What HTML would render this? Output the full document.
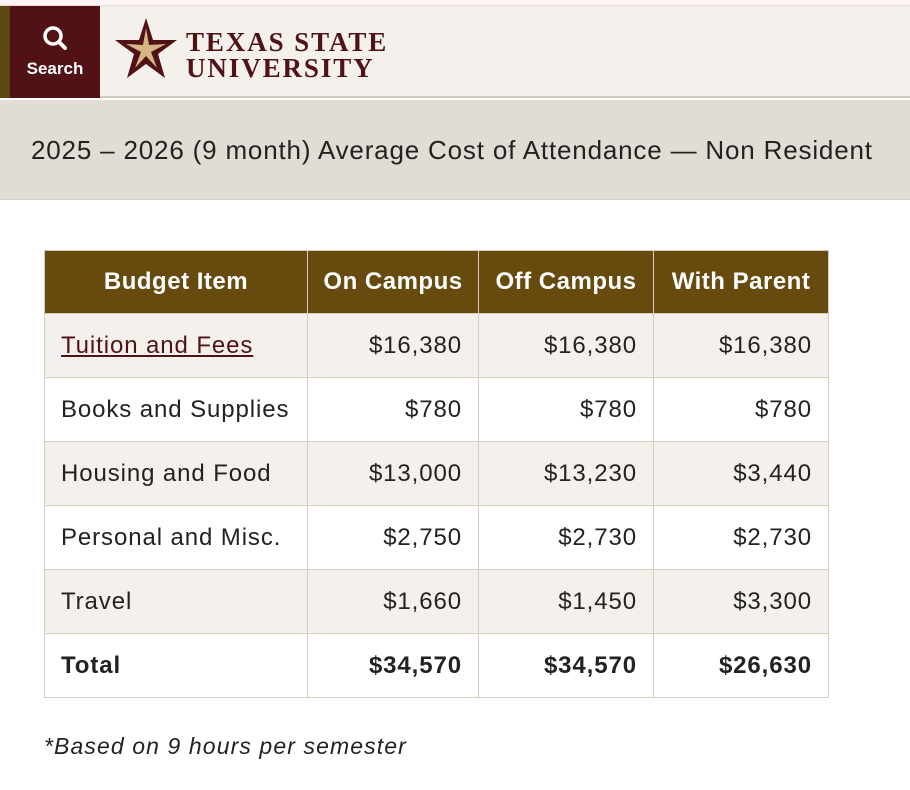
<!DOCTYPE html>
<html><head><meta charset="utf-8"><style>
*{margin:0;padding:0;box-sizing:border-box}
body{width:910px;height:790px;background:#fff;font-family:"Liberation Sans",sans-serif;position:relative;overflow:hidden;color:#222}
.top{position:absolute;left:0;top:0;width:910px;height:6px;background:#fbf6f3;border-bottom:1px solid #f0dcd4}
.hdr{position:absolute;left:0;top:6px;width:910px;height:92px;background:#f4f1ec;border-bottom:2px solid #cfcac2}
.gold{position:absolute;left:0;top:6px;width:10px;height:92px;background:#5e4712}
.search{position:absolute;left:10px;top:6px;width:90px;height:92px;background:#501214;color:#fff;text-align:center;font-size:17px;font-weight:bold}
.logo{position:absolute;left:186px;top:29px;color:#501214;font-family:"Liberation Serif",serif;font-weight:bold;font-size:27px;line-height:26px;letter-spacing:1.9px}
.band{position:absolute;left:0;top:100px;width:910px;height:100px;background:#e2ddd4;border-bottom:1px solid #d6d0c6}
.band div{position:absolute;left:31px;top:35px;font-size:26px;letter-spacing:0.82px;color:#222;white-space:nowrap}
table{position:absolute;left:44px;top:250px;border-collapse:collapse;font-size:24px;letter-spacing:0.9px}
td,th{border:1px solid #d5cdc0;height:64px;padding:0 16px;white-space:nowrap}
th{background:#664a0e;color:#fff;height:63px;border-color:#d5cdc0;letter-spacing:0.5px;padding:0 8px}
td{text-align:right}
td:first-child{text-align:left}
tr.a td{background:#f4f1ec}
.tot td{font-weight:bold}
a{color:#501214;text-decoration:underline}
.note{position:absolute;left:44px;top:733px;font-style:italic;font-size:23px;letter-spacing:1.1px}
</style></head><body>
<div class="top"></div><div class="hdr"></div><div class="gold"></div>
<div class="search"><svg width="30" height="30" viewBox="0 0 30 30" style="margin-top:18px"><circle cx="13" cy="12" r="8" fill="none" stroke="#fff" stroke-width="3.5"/><line x1="19" y1="18" x2="25" y2="24" stroke="#fff" stroke-width="4" stroke-linecap="round"/></svg><div>Search</div></div>
<svg style="position:absolute;left:114px;top:18px" width="64" height="62" viewBox="0 0 64 62"><polygon points="32,0 39,22 63,22 44,36 51,60 32,46 13,60 20,36 1,22 25,22" fill="#501214"/><polygon points="32,10 35,27 52,26 37,34 43,50 32,38 21,50 27,34 12,26 29,27" fill="#d5b787"/></svg>
<div class="logo">TEXAS STATE<br>UNIVERSITY</div>
<div class="band"><div>2025 – 2026 (9 month) Average Cost of Attendance — Non Resident</div></div>
<table>
<tr><th style="width:263px">Budget Item</th><th style="width:171px">On Campus</th><th style="width:175px">Off Campus</th><th style="width:175px">With Parent</th></tr>
<tr class="a"><td><a>Tuition and Fees</a></td><td>$16,380</td><td>$16,380</td><td>$16,380</td></tr>
<tr><td>Books and Supplies</td><td>$780</td><td>$780</td><td>$780</td></tr>
<tr class="a"><td>Housing and Food</td><td>$13,000</td><td>$13,230</td><td>$3,440</td></tr>
<tr><td>Personal and Misc.</td><td>$2,750</td><td>$2,730</td><td>$2,730</td></tr>
<tr class="a"><td>Travel</td><td>$1,660</td><td>$1,450</td><td>$3,300</td></tr>
<tr class="tot"><td>Total</td><td>$34,570</td><td>$34,570</td><td>$26,630</td></tr>
</table>
<div class="note">*Based on 9 hours per semester</div>
</body></html>
